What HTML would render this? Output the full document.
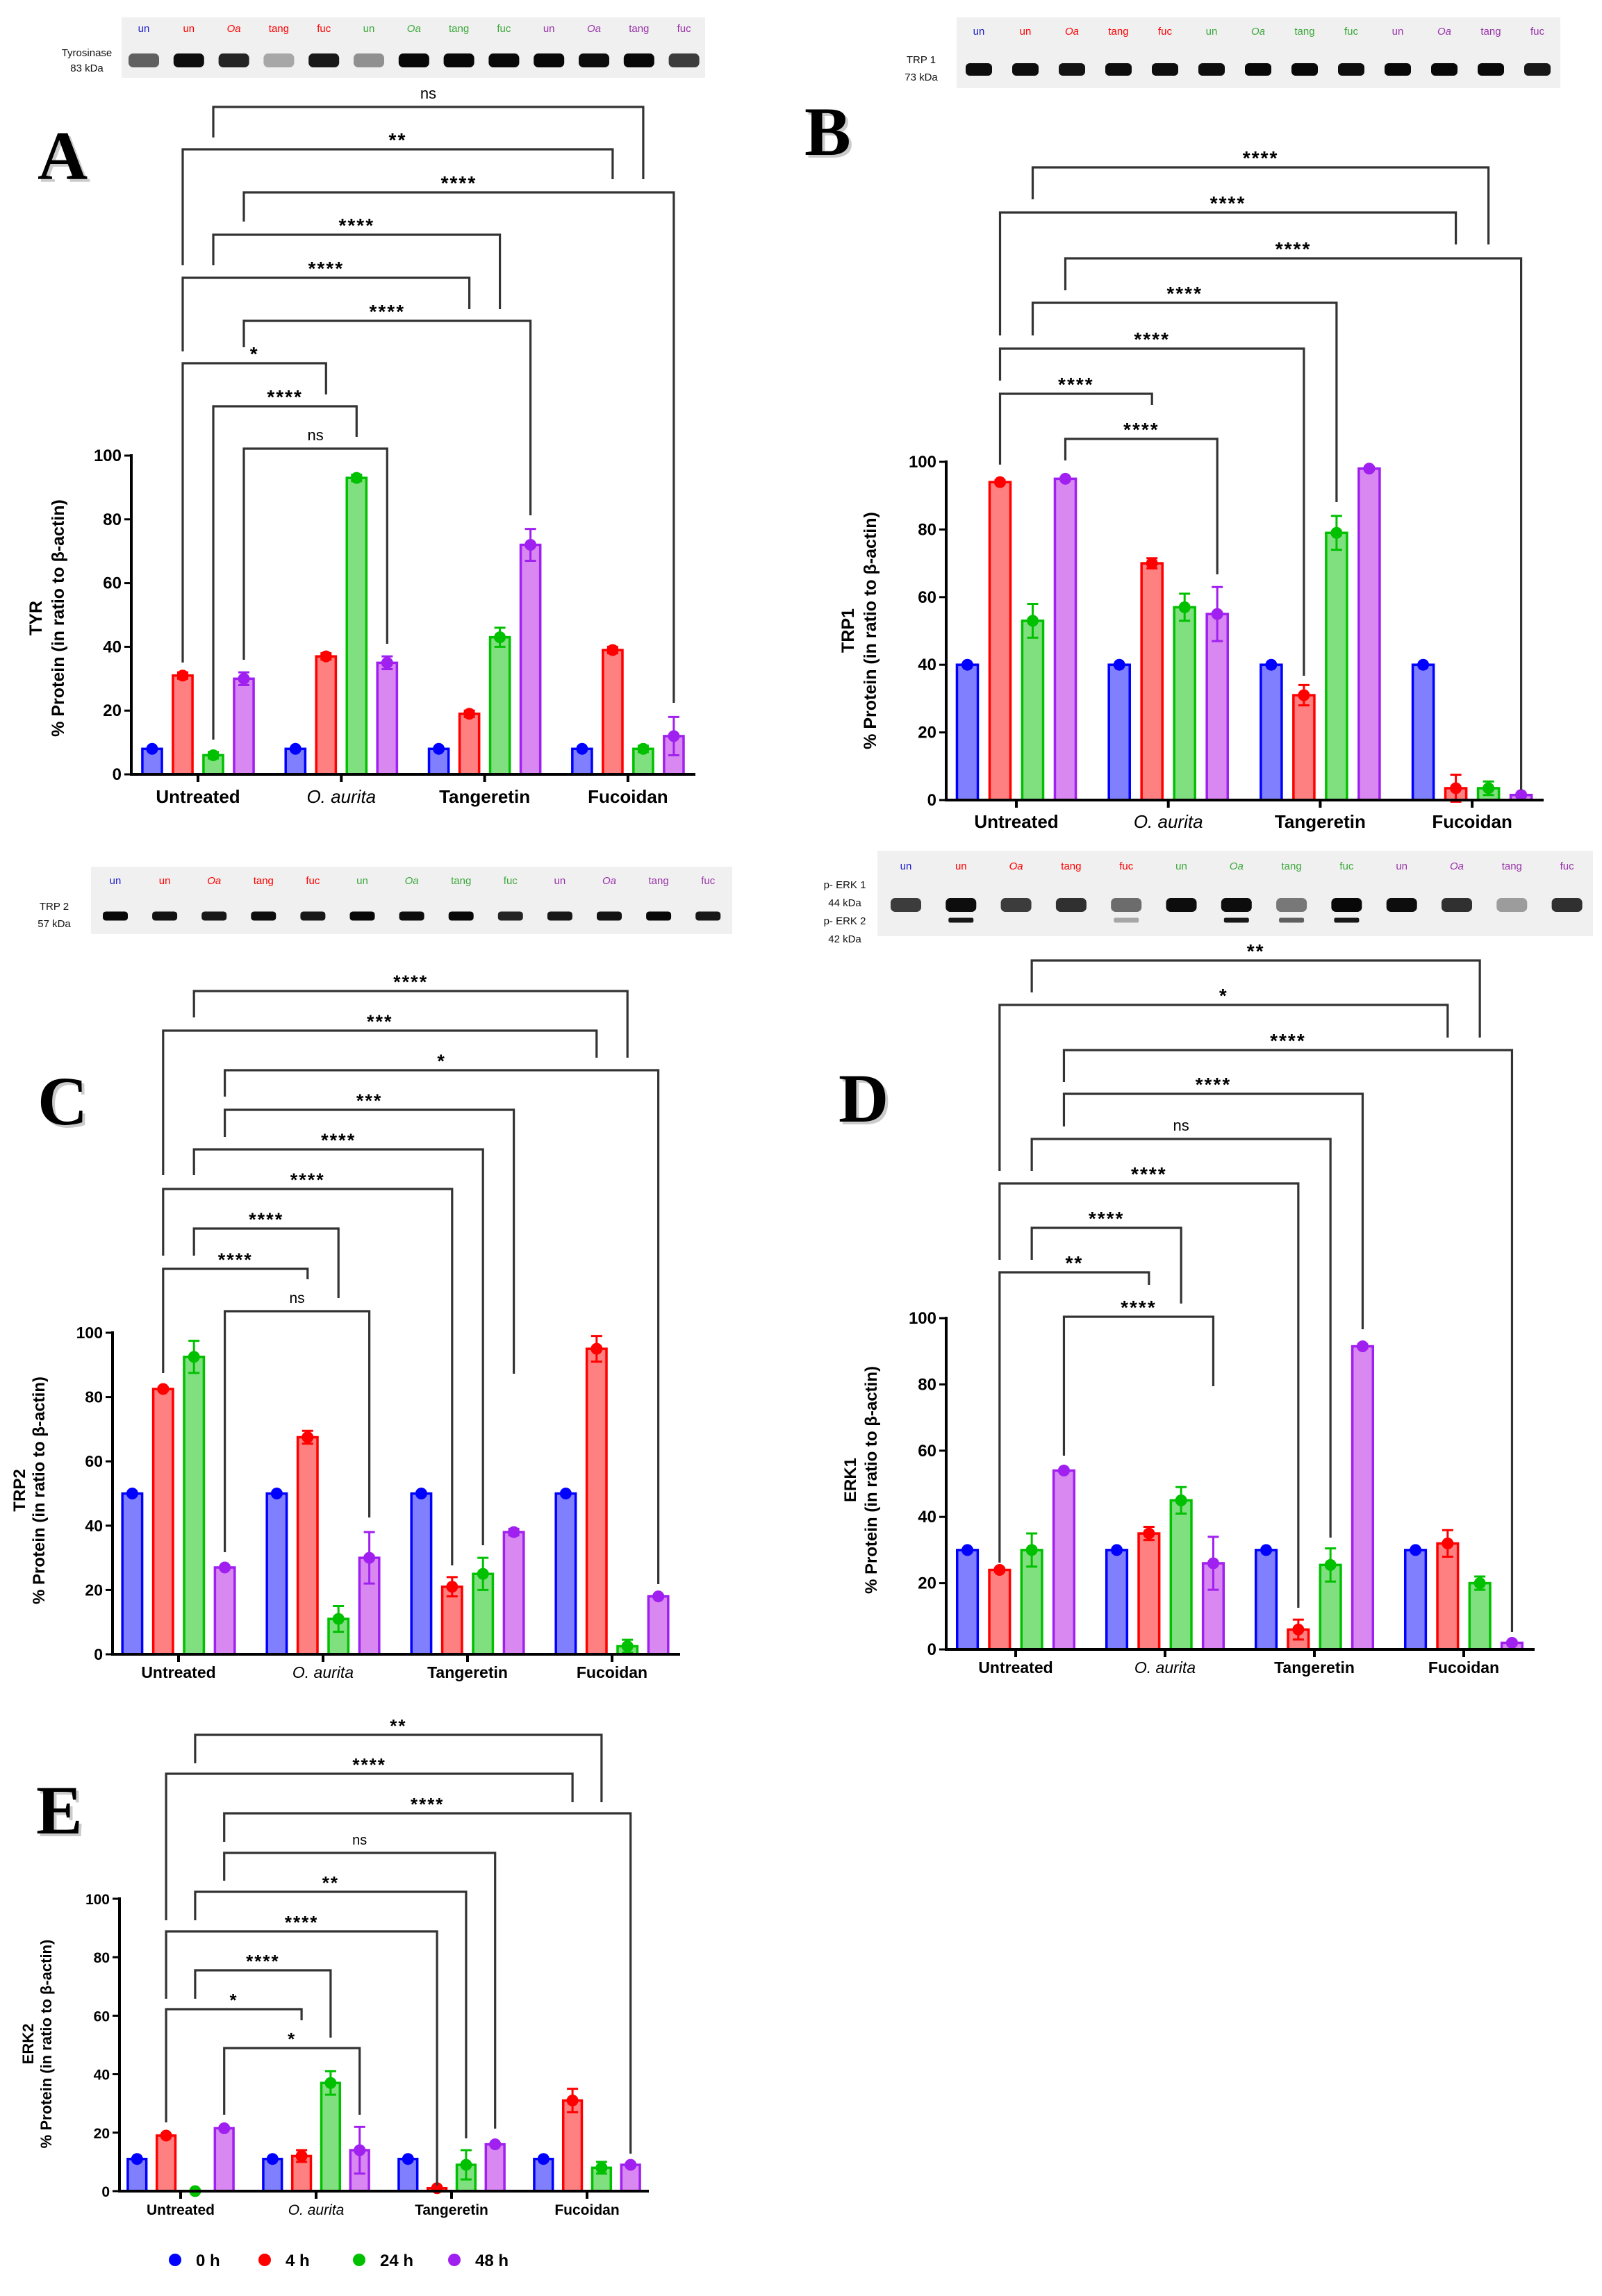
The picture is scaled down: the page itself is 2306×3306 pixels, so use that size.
<!DOCTYPE html>
<html><head><meta charset="utf-8"><style>
html,body{margin:0;padding:0;background:#fff;}
svg{display:block;font-family:"Liberation Sans",sans-serif;}
</style></head>
<body>
<svg id="fig" xmlns="http://www.w3.org/2000/svg" width="2306" height="3306" viewBox="0 0 2306 3306"></svg>
<script>
// ---------- DATA ----------
const categories = ['Untreated','O. aurita','Tangeretin','Fucoidan'];
const seriesNames = ['0 h','4 h','24 h','48 h'];
const yTicks = [0,20,40,60,80,100];

const tyr0h = [8,8,8,8];
const tyr4h = [31,37,19,39];
const tyr24h = [6,93,43,8];
const tyr48h = [30,35,72,12];
const tyrErr4h = [1,1,1,1];
const tyrErr24h = [1,1,3,1];
const tyrErr48h = [2,2,5,6];
const tyrSig = ['ns','**','****','****','****','****','*','****','ns'];

const trp10h = [40,40,40,40];
const trp14h = [94,70,31,3.5];
const trp124h = [53,57,79,3.5];
const trp148h = [95,55,98,1.5];
const trp1Err4h = [0.5,1.5,3,4];
const trp1Err24h = [5,4,5,2];
const trp1Err48h = [0.5,8,0.5,0.5];
const trp1Sig = ['****','****','****','****','****','****','****'];

const trp20h = [50,50,50,50];
const trp24h = [82.5,67.5,21,95];
const trp224h = [92.5,11,25,2.5];
const trp248h = [27,30,38,18];
const trp2Err4h = [0.5,2,3,4];
const trp2Err24h = [5,4,5,2];
const trp2Err48h = [0.5,8,1,0.5];
const trp2Sig = ['****','***','*','***','****','****','****','****','ns'];

const erk10h = [30,30,30,30];
const erk14h = [24,35,6,32];
const erk124h = [30,45,25.5,20];
const erk148h = [54,26,91.5,2];
const erk1Err4h = [0.5,2,3,4];
const erk1Err24h = [5,4,5,2];
const erk1Err48h = [0.5,8,0.5,0.5];
const erk1Sig = ['**','*','****','****','ns','****','****','**','****'];

const erk20h = [11,11,11,11];
const erk24h = [19,12,1,31];
const erk224h = [0,37,9,8];
const erk248h = [21.5,14,16,9];
const erk2Err4h = [0.5,2,0.5,4];
const erk2Err24h = [0,4,5,2];
const erk2Err48h = [0.5,8,0.5,0.5];
const erk2Sig = ['**','****','****','ns','**','****','****','*','*'];

const laneLabels = ['un','un','Oa','tang','fuc','un','Oa','tang','fuc','un','Oa','tang','fuc'];

// ---------- STYLE ----------
const fills = ['#8080ff','#ff8080','#80e080','#d888f0'];
const strokes = ['#0000ff','#ff0000','#00c000','#a020f0'];
const laneColors = ['#1a1acc','#ff0000','#ff0000','#ff0000','#ff0000','#3aa83a','#3aa83a','#3aa83a','#3aa83a','#9933aa','#9933aa','#9933aa','#9933aa'];
const NS = 'http://www.w3.org/2000/svg';
const svg = document.getElementById('fig');

function el(tag, attrs, parent, txt){
  const e = document.createElementNS(NS, tag);
  for (const k in attrs) e.setAttribute(k, attrs[k]);
  if (txt !== undefined) e.textContent = txt;
  (parent || svg).appendChild(e);
  return e;
}

// ---------- BLOTS ----------
function blot(cfg){
  const g = el('g', {});
  
  
  el('rect', {x:cfg.x, y:cfg.y, width:cfg.w, height:cfg.h, fill:'#f0f0f0'}, g);
  cfg.labels.forEach((t,i)=>{
    const tt = el('text', {x:cfg.labelX, y:cfg.labelY[i], 'font-size':15, 'text-anchor':'middle', fill:'#111', 'font-family':'"Liberation Sans Narrow","Liberation Sans",sans-serif'}, g, t);
    
    
  });
  for (let i=0;i<13;i++){
    const lx = cfg.lane0 + i*cfg.laneStep;
    const lt = el('text', {x:lx, y:cfg.laneY, 'font-size':15, 'text-anchor':'middle', fill:laneColors[i], 'font-style': laneLabels[i]==='Oa'?'italic':'normal', 'font-family':'"Liberation Sans Narrow","Liberation Sans",sans-serif'}, g, laneLabels[i]);
    
    
    cfg.bands.forEach(b=>{
      const op = b.op[i];
      if (op <= 0) return;
      const band = el('rect', {x:lx-b.w/2, y:b.y-b.h/2, width:b.w, height:b.h, rx:b.h/3, fill:'#000', opacity:op}, g);
      
      
    });
  }
}
blot({name:'tyrosinase-blot', x:175, y:25, w:840, h:87, labels:['Tyrosinase','83 kDa'], labelX:125, labelY:[81,103],
  lane0:207, laneStep:64.8, laneY:46,
  bands:[{y:87, w:44, h:20, op:[0.6,0.95,0.85,0.3,0.9,0.4,0.97,0.97,0.97,0.97,0.95,0.97,0.75]}]});
blot({name:'trp1-blot', x:1377, y:25, w:869, h:102, labels:['TRP 1','73 kDa'], labelX:1326, labelY:[91,116],
  lane0:1409, laneStep:67, laneY:50,
  bands:[{y:100, w:38, h:18, op:[0.95,0.95,0.92,0.95,0.95,0.95,0.97,0.97,0.95,0.97,0.97,0.97,0.9]}]});
blot({name:'trp2-blot', x:131, y:1248, w:923, h:97, labels:['TRP 2','57 kDa'], labelX:78, labelY:[1310,1335],
  lane0:166, laneStep:71.1, laneY:1273,
  bands:[{y:1319, w:36, h:13, op:[0.97,0.92,0.9,0.95,0.9,0.97,0.95,0.97,0.85,0.9,0.92,0.97,0.9]}]});
blot({name:'perk-blot', x:1263, y:1225, w:1030, h:123, labels:['p- ERK 1','44 kDa','p- ERK 2','42 kDa'], labelX:1216, labelY:[1279,1305,1331,1357],
  lane0:1304, laneStep:79.3, laneY:1252,
  bands:[{y:1303, w:44, h:20, op:[0.75,0.95,0.75,0.8,0.55,0.95,0.95,0.5,0.97,0.95,0.8,0.35,0.8]},
         {y:1325, w:36, h:7, op:[0,0.9,0,0,0.3,0,0.9,0.6,0.9,0,0,0,0]}]});

// ---------- PANELS ----------
function panel(cfg){
  const g = el('g', {});
  
  
  const yS = v => cfg.y0 + (cfg.y100 - cfg.y0) * v / 100;
  const xS = idx => { const gi = Math.floor(idx/4), si = idx%4; return cfg.c0 + gi*cfg.gStep + (si-1.5)*cfg.bStep; };
  const bw = cfg.bStep*0.64;

  el('text', {x:cfg.letterX+4, y:cfg.letterY+4, 'font-size':cfg.letterSize, 'font-weight':'bold', fill:'#999', opacity:0.5, 'font-family':'"Liberation Serif",serif'}, g, cfg.letter);
  const L = el('text', {x:cfg.letterX, y:cfg.letterY, 'font-size':cfg.letterSize, 'font-weight':'bold', fill:'#000', 'font-family':'"Liberation Serif",serif'}, g, cfg.letter);
  
  

  const series = cfg.series;
  for (let s=0;s<4;s++){
    for (let c=0;c<4;c++){
      const idx = c*4+s, v = series[s][c], x = xS(idx);
      if (v > 0.6){
        const b = el('rect', {x:x-bw/2, y:yS(v), width:bw, height:yS(0)-yS(v), fill:fills[s], stroke:strokes[s], 'stroke-width':3.5}, g);
        
        
      }
      const e = cfg.errs[s] ? cfg.errs[s][c] : 0;
      if (e > 0){
        el('line', {x1:x, x2:x, y1:yS(v-e), y2:yS(v+e), stroke:strokes[s], 'stroke-width':3}, g);
        el('line', {x1:x-8, x2:x+8, y1:yS(v+e), y2:yS(v+e), stroke:strokes[s], 'stroke-width':3}, g);
        el('line', {x1:x-8, x2:x+8, y1:yS(v-e), y2:yS(v-e), stroke:strokes[s], 'stroke-width':3}, g);
      }
      const d = el('circle', {cx:x, cy:yS(v), r:8.5, fill:strokes[s]}, g);
      
      
    }
  }

  const ax = el('g', {}, g);
  
  
  el('line', {x1:cfg.xAxis, x2:cfg.xAxis, y1:yS(100)-2, y2:yS(0)+2, stroke:'#000', 'stroke-width':4}, ax);
  el('line', {x1:cfg.xAxis-2, x2:cfg.xEnd, y1:yS(0), y2:yS(0), stroke:'#000', 'stroke-width':4}, ax);
  yTicks.forEach(t=>{
    el('line', {x1:cfg.xAxis-10, x2:cfg.xAxis, y1:yS(t), y2:yS(t), stroke:'#000', 'stroke-width':3}, ax);
    const tl = el('text', {x:cfg.xAxis-14, y:yS(t)+8, 'font-size':cfg.tickSize, 'font-weight':'bold', 'text-anchor':'end'}, ax, t);
    
    
  });
  categories.forEach((c,i)=>{
    const cx = cfg.c0 + i*cfg.gStep;
    el('line', {x1:cx, x2:cx, y1:yS(0), y2:yS(0)+11, stroke:'#000', 'stroke-width':4}, ax);
    const it = i===1;
    const xl = el('text', {x:cx, y:yS(0)+cfg.catDy, 'font-size':cfg.catSize, 'font-weight':it?'normal':'bold', 'font-style':it?'italic':'normal', 'text-anchor':'middle'}, ax, c);
    
    
  });
  const yt = el('text', {x:0, y:0, 'font-size':cfg.titleSize, 'font-weight':'bold', 'text-anchor':'middle', transform:`translate(${cfg.titleX1},${cfg.titleY}) rotate(-90)`}, ax, cfg.title);
  
  
  const yt2 = el('text', {x:0, y:0, 'font-size':cfg.titleSize, 'font-weight':'bold', 'text-anchor':'middle', transform:`translate(${cfg.titleX2},${cfg.titleY}) rotate(-90)`}, ax, '% Protein (in ratio to β-actin)');
  
  

  cfg.brackets.forEach((b,i)=>{
    const bg = el('g', {}, g);
    
    
    const xa = xS(b[0]), xb = xS(b[1]);
    el('polyline', {points:`${xa},${b[3]} ${xa},${b[2]} ${xb},${b[2]} ${xb},${b[4]}`, fill:'none', stroke:'#333', 'stroke-width':3.2}, bg);
    const lab = cfg.sig[i];
    const isNs = lab === 'ns';
    const st = el('text', {x:(xa+xb)/2, y:b[2]-(isNs?12:4), 'font-size':isNs?cfg.sigSize-2:cfg.sigSize+4, 'font-weight':isNs?'normal':'bold', 'text-anchor':'middle', 'letter-spacing':isNs?0:2}, bg, lab);
    
    
  });
}

panel({name:'panel-a-tyr', letter:'A', letterX:54, letterY:258, letterSize:100,
  y0:1115, y100:656, xAxis:189, xEnd:1001, c0:285, gStep:206.3, bStep:44,
  series:[tyr0h,tyr4h,tyr24h,tyr48h], errs:[null,tyrErr4h,tyrErr24h,tyrErr48h],
  tickSize:24, catSize:26, catDy:41, titleSize:25, title:'TYR', titleX1:60, titleX2:92, titleY:890, sigSize:24,
  sig:tyrSig,
  brackets:[[2,14,154,198,258],[1,13,215,382,258],[3,15,277,319,1012],[2,10,338,382,445],[1,9,400,506,445],[3,11,462,500,742],[1,5,523,954,568],[2,6,585,1065,629],[3,7,646,950,927]]});

panel({name:'panel-b-trp1', letter:'B', letterX:1158, letterY:223, letterSize:100,
  y0:1152, y100:665, xAxis:1362, xEnd:2222, c0:1463, gStep:218.7, bStep:47,
  series:[trp10h,trp14h,trp124h,trp148h], errs:[null,trp1Err4h,trp1Err24h,trp1Err48h],
  tickSize:24, catSize:26, catDy:40, titleSize:25, title:'TRP1', titleX1:1229, titleX2:1261, titleY:908, sigSize:24,
  sig:trp1Sig,
  brackets:[[2,14,241,287,352],[1,13,306,483,352],[3,15,372,418,1137],[2,10,436,483,723],[1,9,502,548,973],[1,5,567,669,583],[3,7,632,663,827]]});

panel({name:'panel-c-trp2', letter:'C', letterX:54, letterY:1619, letterSize:100,
  y0:2382, y100:1919, xAxis:162, xEnd:979, c0:257, gStep:208, bStep:44.4,
  series:[trp20h,trp24h,trp224h,trp248h], errs:[null,trp2Err4h,trp2Err24h,trp2Err48h],
  tickSize:23, catSize:23, catDy:34, titleSize:24, title:'TRP2', titleX1:36, titleX2:64, titleY:2146, sigSize:23,
  sig:trp2Sig,
  brackets:[[2,14,1427,1465,1523],[1,13,1484,1692,1523],[3,15,1541,1579,2281],[3,11,1598,1637,1978],[2,10,1655,1692,2225],[1,9,1712,1808,2254],[2,6,1769,1808,1869],[1,5,1827,1977,1842],[3,7,1888,2235,2185]]});

panel({name:'panel-d-erk1', letter:'D', letterX:1207, letterY:1615, letterSize:100,
  y0:2375, y100:1898, xAxis:1362, xEnd:2209, c0:1462, gStep:215, bStep:46.3,
  series:[erk10h,erk14h,erk124h,erk148h], errs:[null,erk1Err4h,erk1Err24h,erk1Err48h],
  tickSize:24, catSize:23, catDy:34, titleSize:24, title:'ERK1', titleX1:1232, titleX2:1262, titleY:2131, sigSize:24,
  sig:erk1Sig,
  brackets:[[2,14,1383,1429,1494],[1,13,1447,1686,1494],[3,15,1512,1558,2350],[3,11,1575,1622,1914],[2,10,1640,1686,2214],[1,9,1704,1814,2315],[2,6,1768,1814,1877],[1,5,1832,2250,1850],[3,7,1896,2096,1996]]});

panel({name:'panel-e-erk2', letter:'E', letterX:52, letterY:2640, letterSize:100,
  y0:3155, y100:2734, xAxis:172, xEnd:934, c0:260, gStep:195, bStep:41.8,
  series:[erk20h,erk24h,erk224h,erk248h], errs:[null,erk2Err4h,erk2Err24h,erk2Err48h],
  tickSize:21, catSize:21, catDy:34, titleSize:22, title:'ERK2', titleX1:48, titleX2:74, titleY:2943, sigSize:22,
  sig:erk2Sig,
  brackets:[[2,14,2498,2539,2595],[1,13,2554,2765,2595],[3,15,2611,2652,3101],[3,11,2668,2708,3065],[2,10,2724,2765,3079],[1,9,2781,2878,3147],[2,6,2837,2878,2934],[1,5,2893,3056,2909],[3,7,2949,3045,3045]]});

// ---------- LEGEND ----------
const lg = el('g', {});


const legX = [252,381,517,654];
seriesNames.forEach((n,i)=>{
  const it = el('g', {}, lg);
  
  
  el('circle', {cx:legX[i], cy:3254, r:9, fill:strokes[i]}, it);
  el('text', {x:legX[i]+30, y:3263, 'font-size':24, 'font-weight':'bold'}, it, n);
});
</script>
</body></html>
